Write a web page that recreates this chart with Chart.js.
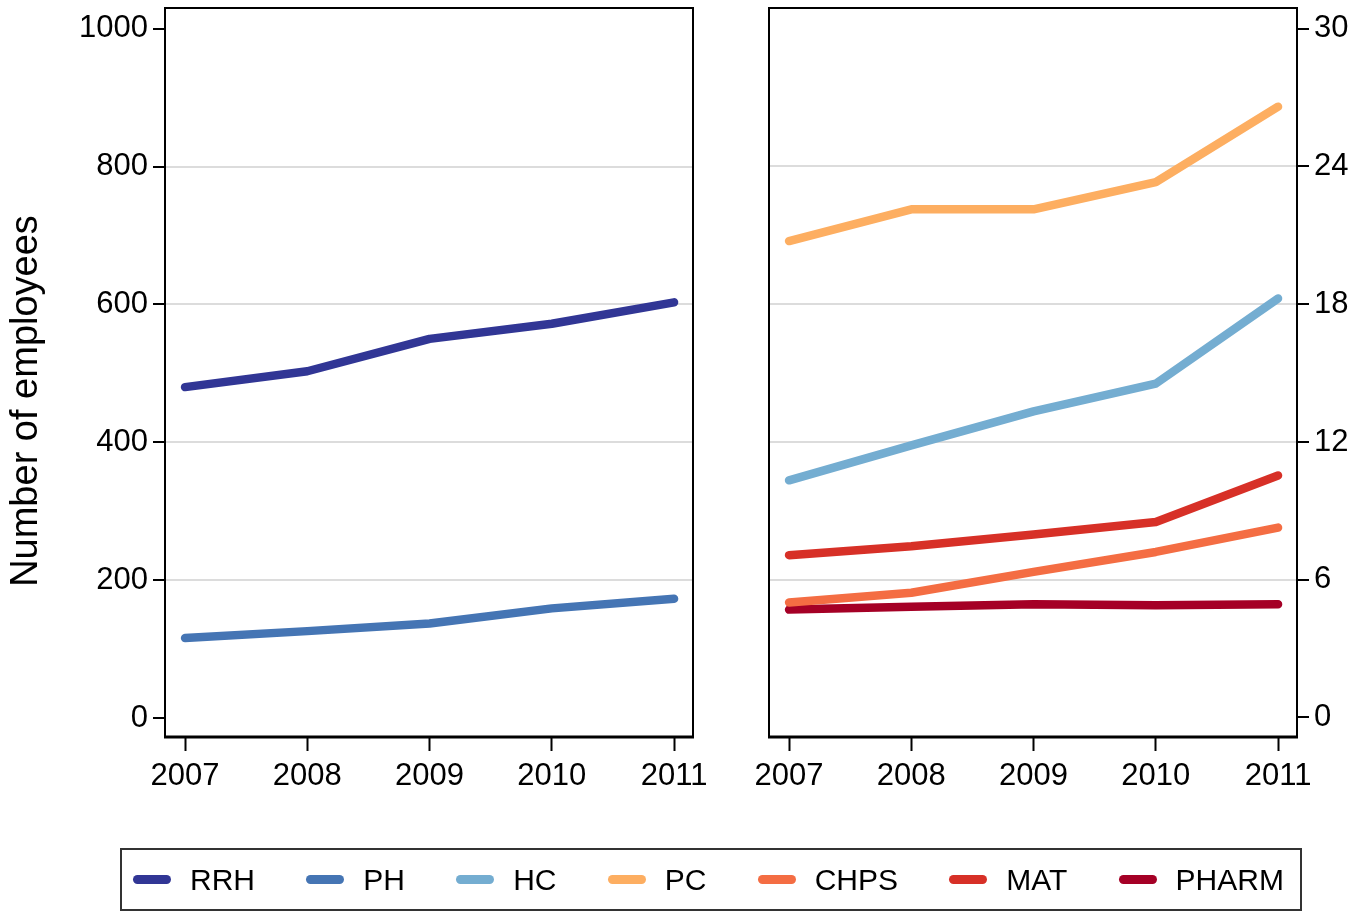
<!DOCTYPE html>
<html>
<head>
<meta charset="utf-8">
<script src="https://cdn.jsdelivr.net/npm/chart.js@4"></script>
<style>
  body { margin: 0; background: #fff; }
  #wrap { position: relative; width: 1356px; height: 912px; }
  canvas { position: absolute; left: 0; top: 0; }
  #legend {
    position: absolute; left: 120px; top: 848px; width: 1182px; height: 63px;
    box-sizing: border-box; border: 2px solid #333;
    display: flex; align-items: center; justify-content: space-between;
    padding: 0 16px 0 11px;
    font-family: "Liberation Sans", Arial, sans-serif; font-size: 30px; color: #000;
  }
  .item { display: flex; align-items: center; }
  .swatch { display: inline-block; width: 38px; height: 9px; border-radius: 5px; margin-right: 19px; }
</style>
</head>
<body>
<div id="wrap">
  <canvas id="leftChart" width="1356" height="912"></canvas>
  <canvas id="rightChart" width="1356" height="912"></canvas>
  <div id="legend"></div>
</div>
<script>
// data
const years = [2007, 2008, 2009, 2010, 2011];
const leftTicks = [0, 200, 400, 600, 800, 1000];
const rightTicks = [0, 6, 12, 18, 24, 30];

const rrh = [480, 503, 550, 572, 603];
const ph = [116, 126, 137, 159, 173];
const hc = [10.33, 11.85, 13.33, 14.54, 18.25];
const pc = [20.75, 22.13, 22.13, 23.32, 26.6];
const chps = [5.01, 5.43, 6.34, 7.21, 8.27];
const mat = [7.07, 7.46, 7.97, 8.51, 10.54];
const pharm = [4.70, 4.82, 4.93, 4.89, 4.93];

const FONT = '"Liberation Sans", Arial, sans-serif';

const series = [
  { label: 'RRH', data: rrh, color: '#313695', side: 'left' },
  { label: 'PH', data: ph, color: '#4575b4', side: 'left' },
  { label: 'HC', data: hc, color: '#74add1', side: 'right' },
  { label: 'PC', data: pc, color: '#fdae61', side: 'right' },
  { label: 'CHPS', data: chps, color: '#f46d43', side: 'right' },
  { label: 'MAT', data: mat, color: '#d73027', side: 'right' },
  { label: 'PHARM', data: pharm, color: '#a50026', side: 'right' }
];

function makeDataset(s) {
  return {
    label: s.label,
    data: years.map((y, i) => ({ x: y, y: s.data[i] })),
    borderColor: s.color,
    borderWidth: 8.5,
    borderCapStyle: 'round',
    borderJoinStyle: 'round',
    pointRadius: 0,
    fill: false,
    tension: 0
  };
}

// box around the plot region
const framePlugin = {
  id: 'frame',
  afterDraw(chart) {
    const a = chart.chartArea;
    const ctx = chart.ctx;
    ctx.save();
    ctx.strokeStyle = '#000';
    ctx.lineWidth = 2;
    ctx.strokeRect(a.left, a.top, a.right - a.left, a.bottom - a.top);
    ctx.lineWidth = 3;
    ctx.beginPath();
    ctx.moveTo(a.left - 1, a.bottom);
    ctx.lineTo(a.right + 1, a.bottom);
    ctx.stroke();
    ctx.restore();
  }
};

// y title, placed lower than the scale centre like the original
const yTitlePlugin = {
  id: 'yTitle',
  afterDraw(chart) {
    const ctx = chart.ctx;
    ctx.save();
    ctx.translate(27, 401);
    ctx.rotate(-Math.PI / 2);
    ctx.font = '38px ' + FONT;
    ctx.fillStyle = '#000';
    ctx.textAlign = 'center';
    ctx.textBaseline = 'middle';
    ctx.fillText('Number of employees', 0, 0);
    ctx.restore();
  }
};

function xScale() {
  return {
    type: 'linear',
    min: 2006.836,
    max: 2011.155,
    afterBuildTicks: s => { s.ticks = years.map(v => ({ value: v })); },
    afterFit: s => { s.height = 912 - 737; s.paddingLeft = 0; s.paddingRight = 0; },
    grid: { drawOnChartArea: false, drawTicks: true, tickLength: 14, tickColor: '#000', tickWidth: 2 },
    border: { display: false },
    ticks: { font: { family: FONT, size: 31 }, color: '#000', padding: 7, maxRotation: 0, callback: v => String(v) }
  };
}

function yScale(pos, min, max, tickVals, width, pad) {
  const top = tickVals[tickVals.length - 1];
  return {
    position: pos,
    min: min,
    max: max,
    afterBuildTicks: s => { s.ticks = tickVals.map(v => ({ value: v })); },
    afterFit: s => { s.width = width; s.paddingTop = 0; s.paddingBottom = 0; },
    grid: {
      color: c => (c.tick && (c.tick.value === 0 || c.tick.value === top)) ? 'rgba(0,0,0,0)' : '#dcdcdc',
      lineWidth: 2,
      tickLength: 12,
      tickColor: '#000',
      tickWidth: 2
    },
    border: { display: false },
    ticks: { font: { family: FONT, size: 31 }, color: '#000', padding: pad, callback: v => String(v) }
  };
}

const commonPlugins = { legend: { display: false }, tooltip: { enabled: false } };

new Chart(document.getElementById('leftChart').getContext('2d'), {
  type: 'line',
  data: { datasets: series.filter(s => s.side === 'left').map(makeDataset) },
  options: {
    responsive: false,
    animation: false,
    devicePixelRatio: 1,
    layout: { padding: { top: 8, right: 1356 - 693, bottom: 0, left: 0 } },
    scales: {
      x: xScale(),
      y: yScale('left', -27.6, 1030, leftTicks, 165, 5)
    },
    plugins: commonPlugins
  },
  plugins: [framePlugin, yTitlePlugin]
});

new Chart(document.getElementById('rightChart').getContext('2d'), {
  type: 'line',
  data: { datasets: series.filter(s => s.side === 'right').map(makeDataset) },
  options: {
    responsive: false,
    animation: false,
    devicePixelRatio: 1,
    layout: { padding: { top: 8, right: 0, bottom: 0, left: 769 } },
    scales: {
      x: xScale(),
      y: yScale('right', -0.85, 30.9, rightTicks, 1356 - 1297, 5)
    },
    plugins: commonPlugins
  },
  plugins: [framePlugin]
});

// legend spanning both panels
const legend = document.getElementById('legend');
series.forEach(s => {
  const item = document.createElement('div');
  item.className = 'item';
  const sw = document.createElement('span');
  sw.className = 'swatch';
  sw.style.background = s.color;
  const txt = document.createElement('span');
  txt.textContent = s.label;
  item.appendChild(sw);
  item.appendChild(txt);
  legend.appendChild(item);
});
</script>
</body>
</html>
